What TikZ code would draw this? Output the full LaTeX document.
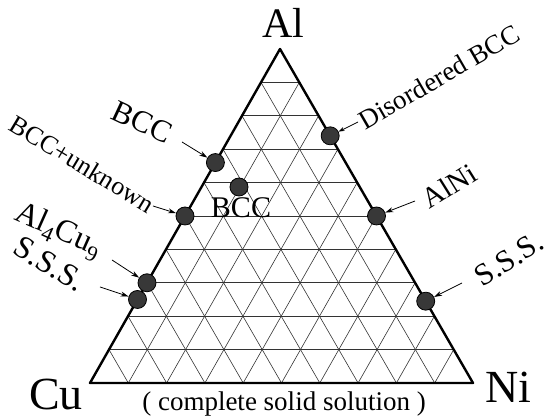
\documentclass[tikz,border=0pt]{standalone}
\usepackage{fontspec}
\setmainfont{Liberation Serif}
\usetikzlibrary{calc,arrows.meta}
\newcommand{\subdig}[1]{\raisebox{-0.22em}{\fontsize{22}{22}\selectfont #1}}
\begin{document}
\begin{tikzpicture}[x=1pt,y=1pt,
  gridline/.style={line width=0.6pt,black!80},
  edge/.style={line width=2.4pt,line join=round},
  dot/.style={circle,fill=black!78,draw=black,line width=0.8pt,inner sep=0pt,minimum size=18pt},
  arr/.style={line width=0.8pt,-{Stealth[length=8pt,width=5pt]}},
  lbl/.style={inner sep=0pt}]
\useasboundingbox (0,0) rectangle (549,419);
\coordinate (Cu) at (90,36);
\coordinate (Ni) at (473,36);
\coordinate (Al) at (280,370);
% grid
\foreach \i in {1,...,9}{
  \draw[gridline] ($(Cu)!\i/10!(Al)$) -- ($(Ni)!\i/10!(Al)$);
  \draw[gridline] ($(Cu)!\i/10!(Ni)$) -- ($(Al)!\i/10!(Ni)$);
  \draw[gridline] ($(Cu)!\i/10!(Ni)$) -- ($(Cu)!\i/10!(Al)$);
}
\draw[edge] (Cu) -- (Ni) -- (Al) -- cycle;
% corner labels
\node[lbl,anchor=base,font=\fontsize{42}{42}\selectfont] (tAl) at (283,381) {Al};
\node[lbl,anchor=base,font=\fontsize{46}{46}\selectfont] (tCu) at (56,9) {Cu};
\node[lbl,anchor=base,font=\fontsize{46}{46}\selectfont] (tNi) at (508,16) {Ni};
\node[lbl,anchor=base,font=\fontsize{27}{27}\selectfont] (tcss) at (284,8) {( complete solid solution )};
% dots
\node[dot] (dBCC) at ($(Cu)!0.66!(Al)$) {};
\node[dot] (dBCCin) at (239,232) {};
\node[dot] (dBCCu) at ($(Cu)!0.5!(Al)$) {};
\node[dot] (dAlCu) at ($(Cu)!0.30!(Al)$) {};
\node[dot] (dSSSl) at ($(Cu)!0.25!(Al)$) {};
\node[dot] (dDis) at ($(Ni)!0.74!(Al)$) {};
\node[dot] (dAlNi) at ($(Ni)!0.5!(Al)$) {};
\node[dot] (dSSSr) at ($(Ni)!0.245!(Al)$) {};
% labels
\node[lbl,anchor=base,font=\fontsize{30}{30}\selectfont] (lBCCin) at (241,201) {BCC};
\node[lbl,rotate=-25,font=\fontsize{31}{31}\selectfont] (lBCC) at (142,297) {BCC};
\node[lbl,rotate=-31,font=\fontsize{26}{26}\selectfont] (lBCCu) at (82,255) {BCC+unknown};
\node[lbl,rotate=-24,font=\fontsize{32}{32}\selectfont] (lAlCu) at (58,188) {Al\subdig{4}Cu\subdig{9}};
\node[lbl,rotate=-31,font=\fontsize{32}{32}\selectfont] (lSSSl) at (50,155) {S.S.S.};
\node[lbl,rotate=30,font=\fontsize{27}{27}\selectfont] (lDis) at (439,342) {Disordered BCC};
\node[lbl,rotate=32,font=\fontsize{29}{29}\selectfont] (lAlNi) at (449,233) {AlNi};
\node[lbl,rotate=32,font=\fontsize{31}{31}\selectfont] (lSSSr) at (509,160) {S.S.S.};
% arrow tails
\coordinate (aBCC) at (182,277);
\coordinate (aBCCu) at (153,213);
\coordinate (aAlCu) at (112,159);
\coordinate (aSSSl) at (100,132);
\coordinate (aDis) at (358,297);
\coordinate (aAlNi) at (415,218);
\coordinate (aSSSr) at (462,136);
\draw[arr] (aBCC) -- (dBCC);
\draw[arr] (aBCCu) -- (dBCCu);
\draw[arr] (aAlCu) -- (dAlCu);
\draw[arr] (aSSSl) -- (dSSSl);
\draw[arr,-{Stealth[length=6pt,width=4pt]}] (aDis) -- (dDis);
\draw[arr] (aAlNi) -- (dAlNi);
\draw[arr] (aSSSr) -- (dSSSr);
\end{tikzpicture}
\end{document}
